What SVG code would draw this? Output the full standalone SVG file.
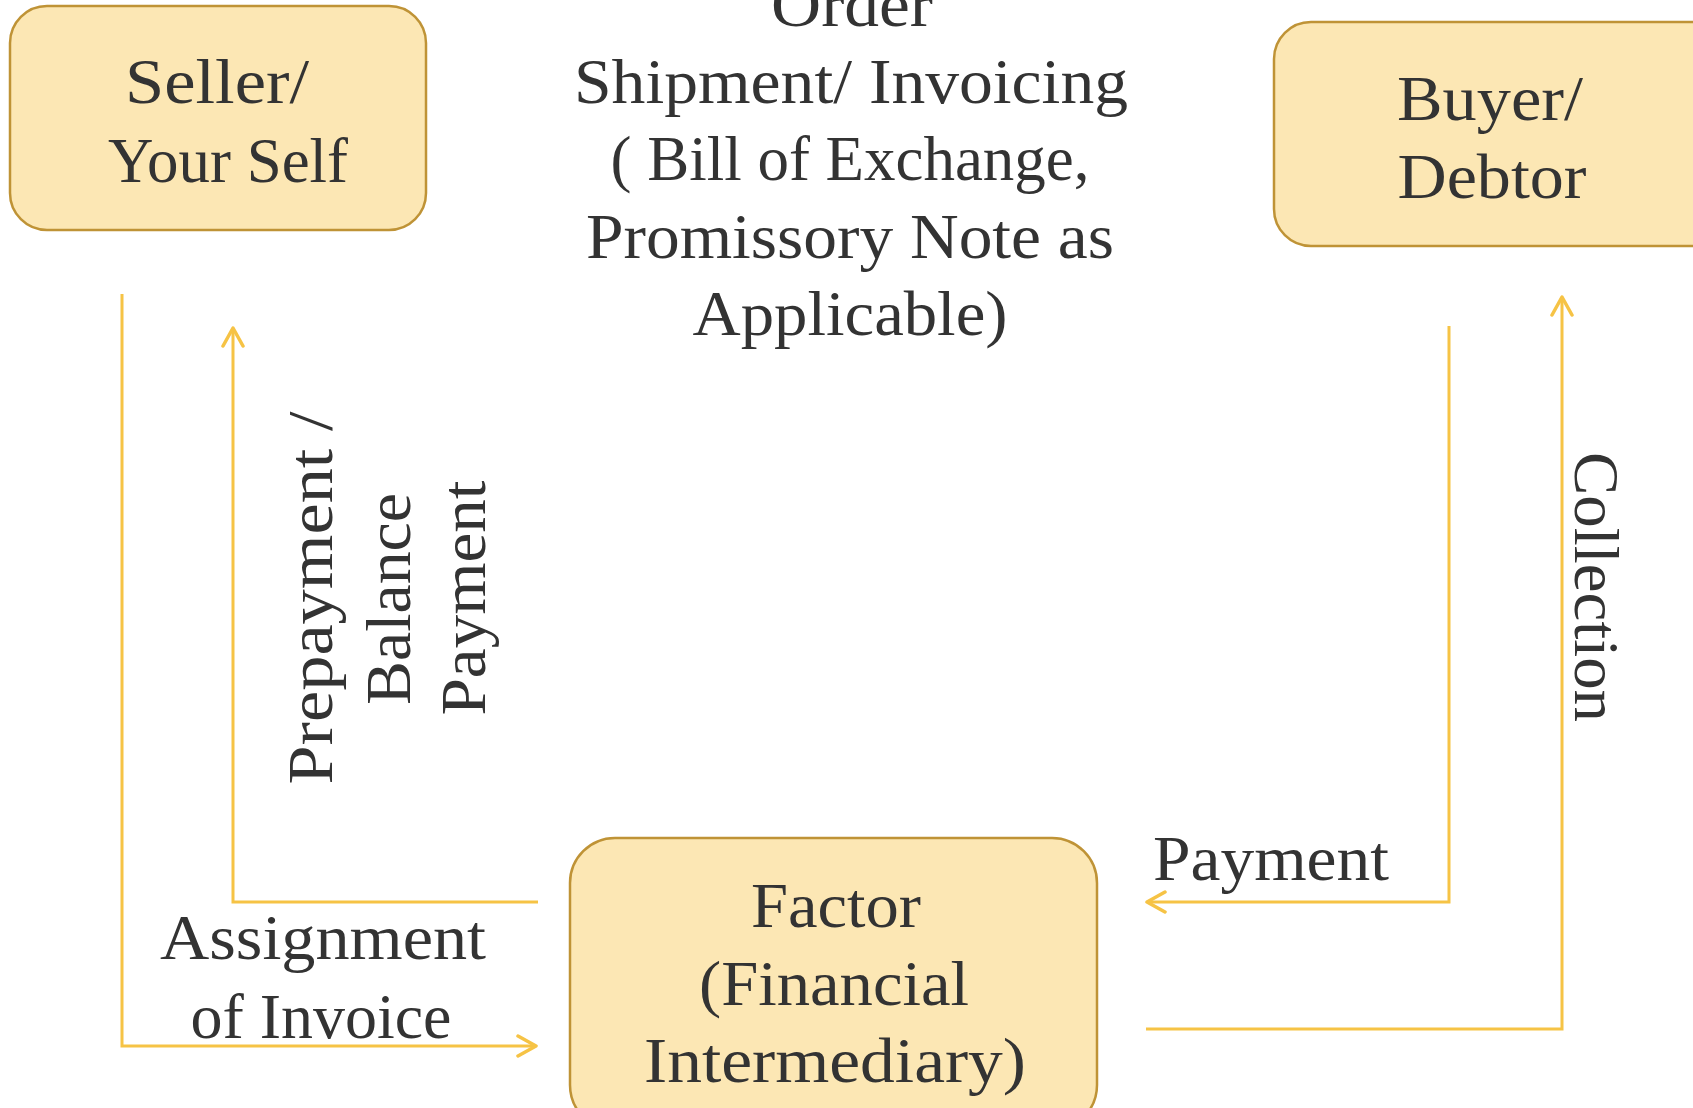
<svg xmlns="http://www.w3.org/2000/svg" width="1693" height="1108" viewBox="0 0 1693 1108">
<style>
.box{fill:#FCE7B4;stroke:#BF9336;stroke-width:2.5}
.t{font-family:"Liberation Serif","Times New Roman",serif;font-size:64px;fill:#333333;text-anchor:middle}
.c{fill:none;stroke:#F6C345;stroke-width:3;stroke-linejoin:miter}
</style>
<defs>
<marker id="arr" viewBox="0 0 24 24" refX="21" refY="12" markerWidth="24" markerHeight="24" markerUnits="userSpaceOnUse" orient="auto">
<path d="M3,2 L21,12 L3,22" fill="none" stroke="#F6C345" stroke-width="3.5" stroke-linecap="round" stroke-linejoin="round"/>
</marker>
</defs>
<rect width="1693" height="1108" fill="#ffffff"/>

<g id="connectors">
<path class="c" d="M122,294 V1046 H536" marker-end="url(#arr)"/>
<path class="c" d="M538,902 H233 V328" marker-end="url(#arr)"/>
<path class="c" d="M1449,326 V902 H1147" marker-end="url(#arr)"/>
<path class="c" d="M1146,1029 H1562 V297" marker-end="url(#arr)"/>
</g>

<g id="seller">
<rect class="box" x="10" y="6" width="416" height="224" rx="37" ry="37"/>
<text class="t" x="217" y="103" textLength="184" lengthAdjust="spacingAndGlyphs">Seller/</text>
<text class="t" x="228" y="182" textLength="240" lengthAdjust="spacingAndGlyphs">Your Self</text>
</g>

<g id="buyer">
<rect class="box" x="1274" y="22" width="460" height="224" rx="37" ry="37"/>
<text class="t" x="1490" y="120" textLength="186" lengthAdjust="spacingAndGlyphs">Buyer/</text>
<text class="t" x="1492" y="198" textLength="189" lengthAdjust="spacingAndGlyphs">Debtor</text>
</g>

<g id="factor">
<rect class="box" x="570" y="838" width="527" height="292" rx="45" ry="45"/>
<text class="t" x="836" y="927" textLength="170" lengthAdjust="spacingAndGlyphs">Factor</text>
<text class="t" x="834" y="1005" textLength="270" lengthAdjust="spacingAndGlyphs">(Financial</text>
<text class="t" x="835" y="1082" textLength="382" lengthAdjust="spacingAndGlyphs">Intermediary)</text>
</g>

<g id="label-order">
<text class="t" x="852" y="26" textLength="162" lengthAdjust="spacingAndGlyphs">Order</text>
<text class="t" x="851" y="103" textLength="554" lengthAdjust="spacingAndGlyphs">Shipment/ Invoicing</text>
<text class="t" x="850" y="180" textLength="479" lengthAdjust="spacingAndGlyphs">( Bill of Exchange,</text>
<text class="t" x="850" y="258" textLength="528" lengthAdjust="spacingAndGlyphs">Promissory Note as</text>
<text class="t" x="850" y="335" textLength="315" lengthAdjust="spacingAndGlyphs">Applicable)</text>
</g>

<g id="label-assignment">
<text class="t" x="323" y="959" textLength="326" lengthAdjust="spacingAndGlyphs">Assignment</text>
<text class="t" x="321" y="1038" textLength="261" lengthAdjust="spacingAndGlyphs">of Invoice</text>
</g>

<g id="label-prepayment">
<text class="t" transform="translate(332,598) rotate(-90)" x="0" y="0" textLength="373" lengthAdjust="spacingAndGlyphs">Prepayment /</text>
<text class="t" transform="translate(410,599) rotate(-90)" x="0" y="0" textLength="212" lengthAdjust="spacingAndGlyphs">Balance</text>
<text class="t" transform="translate(485,598) rotate(-90)" x="0" y="0" textLength="235" lengthAdjust="spacingAndGlyphs">Payment</text>
</g>

<g id="label-payment">
<text class="t" x="1271" y="880" textLength="236" lengthAdjust="spacingAndGlyphs">Payment</text>
</g>

<g id="label-collection">
<text class="t" transform="translate(1575,587) rotate(90)" x="0" y="0" textLength="270" lengthAdjust="spacingAndGlyphs">Collection</text>
</g>
</svg>
